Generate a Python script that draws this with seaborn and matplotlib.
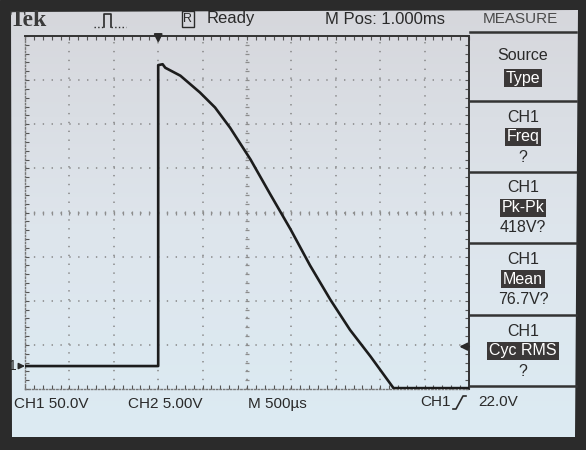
import numpy as np
import matplotlib
matplotlib.use('Agg')
import matplotlib.pyplot as plt
import seaborn as sns
from matplotlib.patches import Rectangle, Polygon
from matplotlib.colors import LinearSegmentedColormap

# CH1 trace: time after trigger (ms) and volts
time_ms = [-1.5, 0.0, 0.0, 0.05, 0.08, 0.25, 0.47, 0.64, 0.81, 1.04, 1.26,
           1.49, 1.71, 1.94, 2.16, 2.39, 2.65, 3.5]
ch1_volts = [0, 0, 341, 342, 338, 329, 310, 293, 270, 234, 195,
             155, 114, 75, 41, 11, -25, -25]

# scope settings
volts_per_div = 50
ms_per_div = 0.5
trigger_level = 22
t_left = -1.5
v_bottom = -26

# side menu
menu_titles = ['Source', 'CH1', 'CH1', 'CH1', 'CH1']
menu_items = ['Type', 'Freq', 'Pk-Pk', 'Mean', 'Cyc RMS']
menu_values = ['', '?', '418V?', '76.7V?', '?']

# readouts
header_labels = ['Ready', 'M Pos: 1.000ms', 'MEASURE']
footer_labels = ['CH1 50.0V', 'CH2 5.00V', 'M 500\u00b5s']
trigger_readout = ['CH1', '22.0V']

scope_font = 'Liberation Sans'
ink = '#2a2a2a'

fig = plt.figure(figsize=(5.86, 4.5), dpi=100)

# ---- bezel and screen background (pixel coordinates) ----
bg = fig.add_axes([0, 0, 1, 1])
bg.add_patch(Rectangle((0, 0), 586, 450, color='#2b2b2b', zorder=0))
screen = Polygon([(11, 12), (578, 10), (575, 437), (12, 437)], closed=True,
                 fc='none', ec='none')
bg.add_patch(screen)
cmap = LinearSegmentedColormap.from_list('scr', ['#d6d7dc', '#dee5ec', '#dcebf3'])
im = bg.imshow(np.linspace(0, 1, 256)[:, None], cmap=cmap, extent=(11, 578, 437, 10),
               aspect='auto', zorder=1)
im.set_clip_path(screen)
bg.set_xlim(0, 586)
bg.set_ylim(450, 0)
bg.axis('off')

# header
bg.text(10, 21, 'Tek', fontsize=17, fontweight='bold', family='Liberation Serif',
        color='#3a3a3a', va='center', zorder=3)
bg.plot([94, 104], [27, 27], ls=':', lw=1, color=ink, zorder=3)
bg.plot([104, 104, 111, 111], [27, 14, 14, 27], lw=1.2, color=ink, zorder=3)
bg.plot([111, 126], [27, 27], ls=':', lw=1, color=ink, zorder=3)
bg.text(188, 19, 'R', fontsize=9, family=scope_font, color=ink, ha='center', va='center',
        zorder=3, bbox=dict(boxstyle='square,pad=0.15', fc='none', ec=ink, lw=1))
bg.text(207, 19, header_labels[0], fontsize=12, family=scope_font, color=ink,
        va='center', zorder=3)
bg.text(325, 19, header_labels[1], fontsize=12, family=scope_font, color=ink,
        va='center', zorder=3)
bg.text(520, 19, header_labels[2], fontsize=11, family=scope_font, color='#4a4a4a',
        ha='center', va='center', zorder=3)

# side menu
seps = [32, 101, 172, 243, 315, 386]
for y in seps:
    bg.plot([470, 576], [y, y], color='#333333', lw=1.8, zorder=3)
for i in range(5):
    top = seps[i]
    cx = 523
    if menu_values[i]:
        ys = [top + 16, top + 36, top + 56]
    else:
        ys = [top + 23, top + 46]
    bg.text(cx, ys[0], menu_titles[i], fontsize=11.5, family=scope_font, color=ink,
            ha='center', va='center', zorder=3)
    bg.text(cx, ys[1], menu_items[i], fontsize=11.5, family=scope_font, color='white',
            ha='center', va='center', zorder=3,
            bbox=dict(boxstyle='square,pad=0.12', fc='#3b3838', ec='none'))
    if menu_values[i]:
        bg.text(cx, ys[2], menu_values[i], fontsize=11.5, family=scope_font, color=ink,
                ha='center', va='center', zorder=3)

# footer
for x, lab in zip([14, 128, 248], footer_labels):
    bg.text(x, 404, lab, fontsize=11, family=scope_font, color=ink, va='center', zorder=3)
bg.text(420, 402, trigger_readout[0], fontsize=11, family=scope_font, color=ink,
        va='center', zorder=3)
bg.plot([453, 456, 463, 466], [409, 409, 396, 396], color=ink, lw=1.2, zorder=3)
bg.text(478, 402, trigger_readout[1], fontsize=11, family=scope_font, color=ink,
        va='center', zorder=3)

# ---- graticule and trace ----
ax = fig.add_axes([25 / 586, 1 - 389 / 450, 444 / 586, 353 / 450])
ax.set_facecolor('none')
t_right = t_left + 10 * ms_per_div
v_top = v_bottom + 8 * volts_per_div

grid_kw = dict(color='#858585', lw=1.1, dashes=(0.9, 4.9), zorder=1)
for i in range(1, 10):
    ax.axvline(t_left + i * ms_per_div, **grid_kw)
for j in range(1, 8):
    ax.axhline(v_bottom + j * volts_per_div, **grid_kw)

t_mid = t_left + 5 * ms_per_div
v_mid = v_bottom + 4 * volts_per_div
sub_v = np.arange(v_bottom, v_top + 1e-6, volts_per_div / 5)
sub_t = np.arange(t_left, t_right + 1e-6, ms_per_div / 5)
ax.plot(np.full(len(sub_v), t_mid), sub_v, ls='none', marker='_', ms=3.5, mew=0.9,
        color='#8c8c8c', zorder=1)
ax.plot(sub_t, np.full(len(sub_t), v_mid), ls='none', marker='|', ms=3.5, mew=0.9,
        color='#8c8c8c', zorder=1)

sns.lineplot(x=time_ms, y=ch1_volts, ax=ax, estimator=None, sort=False,
             color='#1c1c1c', lw=1.9, zorder=3)

ax.set_xlim(t_left, t_right)
ax.set_ylim(v_bottom, v_top)
ax.set_xticks(sub_t)
ax.set_yticks(sub_v)
ax.tick_params(direction='in', length=3, width=0.8, color='#555555', top=True,
               right=True, labelbottom=False, labelleft=False)
ax.set_xlabel('')
ax.set_ylabel('')
for side in ['top', 'right']:
    ax.spines[side].set_color('#333333')
    ax.spines[side].set_linewidth(1.4)
for side in ['left', 'bottom']:
    ax.spines[side].set_color('#777777')
    ax.spines[side].set_linewidth(1.0)
    ax.spines[side].set_linestyle((0, (1, 1.5)))

# trigger position, trigger level and ground markers
ax.annotate('', xy=(0, v_top - 8), xytext=(0, 5), textcoords='offset points',
            annotation_clip=False,
            arrowprops=dict(arrowstyle='-|>', color=ink, lw=1.5, mutation_scale=12,
                            shrinkA=0, shrinkB=0))
ax.annotate('', xy=(t_right - 0.11, trigger_level), xytext=(t_right, trigger_level),
            arrowprops=dict(arrowstyle='-|>', color=ink, lw=1.5, mutation_scale=11,
                            shrinkA=0, shrinkB=0))
ax.annotate('1', xy=(t_left, 0), xytext=(-6, 0), textcoords='offset points',
            ha='right', va='center', fontsize=10, family=scope_font, color=ink,
            annotation_clip=False,
            arrowprops=dict(arrowstyle='-|>', color=ink, lw=1.1, mutation_scale=9,
                            shrinkA=0, shrinkB=0))

fig.savefig('out.png', dpi=100)
